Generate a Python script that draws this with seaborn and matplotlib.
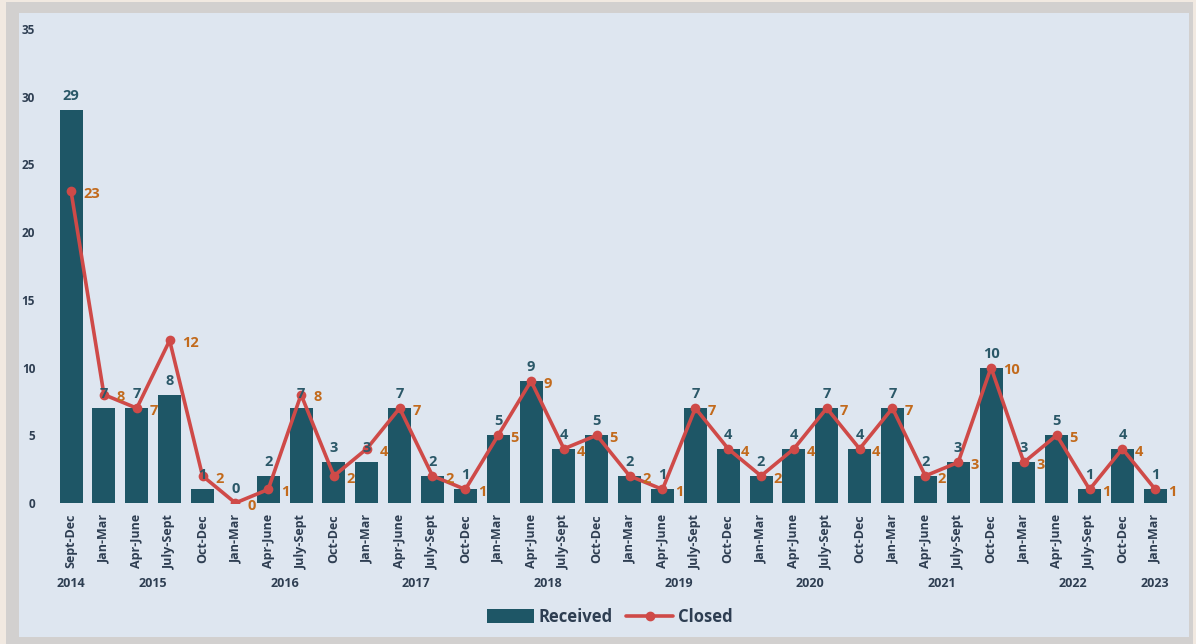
import numpy as np
import pandas as pd
import seaborn as sns
import matplotlib.pyplot as plt
from matplotlib.patches import Rectangle
from matplotlib.lines import Line2D
from matplotlib.patches import Patch
import matplotlib.transforms as mtransforms

# data
quarters = ['Sept-Dec',
            'Jan-Mar', 'Apr-June', 'July-Sept', 'Oct-Dec',
            'Jan-Mar', 'Apr-June', 'July-Sept', 'Oct-Dec',
            'Jan-Mar', 'Apr-June', 'July-Sept', 'Oct-Dec',
            'Jan-Mar', 'Apr-June', 'July-Sept', 'Oct-Dec',
            'Jan-Mar', 'Apr-June', 'July-Sept', 'Oct-Dec',
            'Jan-Mar', 'Apr-June', 'July-Sept', 'Oct-Dec',
            'Jan-Mar', 'Apr-June', 'July-Sept', 'Oct-Dec',
            'Jan-Mar', 'Apr-June', 'July-Sept', 'Oct-Dec',
            'Jan-Mar']
years = [2014] + [2015] * 4 + [2016] * 4 + [2017] * 4 + [2018] * 4 + \
        [2019] * 4 + [2020] * 4 + [2021] * 4 + [2022] * 4 + [2023]
received = [29, 7, 7, 8, 1, 0, 2, 7, 3, 3, 7, 2, 1, 5, 9, 4, 5,
            2, 1, 7, 4, 2, 4, 7, 4, 7, 2, 3, 10, 3, 5, 1, 4, 1]
closed = [23, 8, 7, 12, 2, 0, 1, 8, 2, 4, 7, 2, 1, 5, 9, 4, 5,
          2, 1, 7, 4, 2, 4, 7, 4, 7, 2, 3, 10, 3, 5, 1, 4, 1]

df = pd.DataFrame({'idx': np.arange(len(quarters)), 'quarter': quarters,
                   'year': years, 'received': received, 'closed': closed})

bar_color = '#1e5666'
line_color = '#cf4a48'
closed_txt = '#c26a1c'
recv_txt = '#2b5868'
axis_txt = '#2e3e52'

sns.set_style('white')
plt.rcParams['font.family'] = ['Open Sans', 'DejaVu Sans']

fig = plt.figure(figsize=(11.96, 6.44), dpi=100)
fig.patch.set_facecolor('#f1e9e1')
# panel background with a grey frame (behind the axes)
fig.patches.append(Rectangle((6 / 1196, 0), (1193 - 6) / 1196, 1 - 2 / 644,
                             transform=fig.transFigure, facecolor='#d2d0cf',
                             edgecolor='none', zorder=-10))
fig.patches.append(Rectangle((19 / 1196, 7 / 644), (1189 - 19) / 1196, (631 - 7) / 644,
                             transform=fig.transFigure, facecolor='#dee6f0',
                             edgecolor='none', zorder=-9))

ax = fig.add_axes([0.0457, 0.219, 0.934, 0.736])
ax.set_facecolor('none')

sns.barplot(data=df, x='idx', y='received', color=bar_color, width=0.7,
            saturation=1, linewidth=0, edgecolor='none', ax=ax)
sns.lineplot(data=df, x='idx', y='closed', color=line_color, lw=2.6,
             marker='o', markersize=7, markeredgewidth=0, ax=ax)

ax.set_xlim(-0.5, len(quarters) - 0.5)
ax.set_ylim(0, 35)
ax.set_yticks(range(0, 36, 5))
ax.set_xticks(df['idx'])
ax.set_xticklabels(quarters, rotation=90, fontsize=9, fontweight='bold',
                   color=axis_txt)
for lab in ax.get_yticklabels():
    lab.set_fontsize(8.5)
    lab.set_fontweight('bold')
    lab.set_color(axis_txt)
ax.tick_params(length=0, pad=8)
ax.tick_params(axis='y', pad=14)
ax.set_xlabel('')
ax.set_ylabel('')
for s in ax.spines.values():
    s.set_visible(False)

# value labels
for i, (r, c) in enumerate(zip(received, closed)):
    ax.annotate(str(r), (i, r), xytext=(0, 5), textcoords='offset points',
                ha='center', va='bottom', fontsize=10.5, fontweight='bold',
                color=recv_txt)
    ax.annotate(str(c), (i, c), xytext=(9, -2), textcoords='offset points',
                ha='left', va='center', fontsize=10.5, fontweight='bold',
                color=closed_txt)

# year labels centred under each group
trans = mtransforms.blended_transform_factory(ax.transData, ax.transAxes)
for yr, grp in df.groupby('year'):
    ax.text(grp['idx'].mean(), -0.17, str(yr), transform=trans, ha='center',
            va='center', fontsize=9, fontweight='bold', color=axis_txt)

handles = [Patch(facecolor=bar_color, edgecolor='none', label='Received'),
           Line2D([0], [0], color=line_color, lw=2.6, marker='o',
                  markersize=6, label='Closed')]
leg = fig.legend(handles=handles, loc='center', ncol=2,
                 bbox_to_anchor=(0.51, 0.042), frameon=False,
                 handlelength=2.8, handleheight=0.9, handletextpad=0.3,
                 columnspacing=0.8, prop={'weight': 'bold', 'size': 12})
for t in leg.get_texts():
    t.set_color(axis_txt)

fig.savefig('out.png', dpi=100, facecolor=fig.get_facecolor())
